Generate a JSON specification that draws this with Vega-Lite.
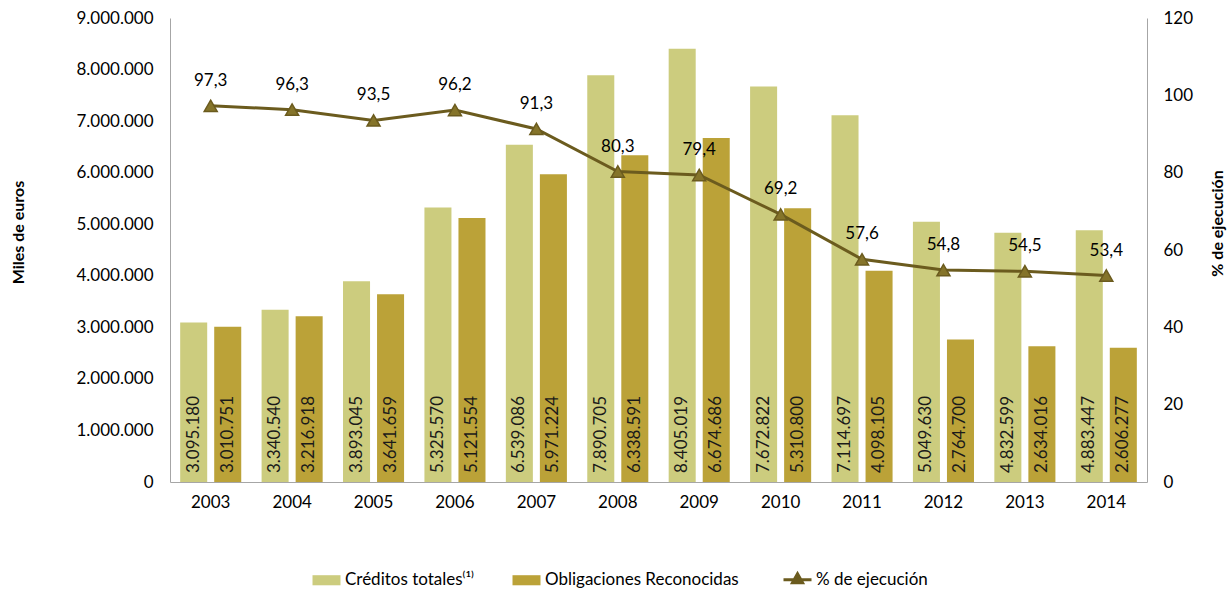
{
  "$schema": "https://vega.github.io/schema/vega-lite/v6.json",
  "width": 977,
  "height": 464,
  "autosize": {"type": "none"},
  "padding": {"left": 170, "top": 18, "right": 80, "bottom": 108},
  "background": "white",
  "config": {
    "font": "Lato",
    "locale": {"number": {"decimal": ",", "thousands": ".", "grouping": [3], "currency": ["", " €"]}},
    "view": {"stroke": null},
    "axis": {"labelFontSize": 17, "labelColor": "#000", "domainColor": "#A6A6A6", "ticks": false, "grid": false, "titleFontSize": 16, "titleColor": "#000", "titleFontWeight": "bold"}
  },
  "datasets": {
    "bars": [
      {"year": "2003", "serie": "Créditos totales⁽¹⁾", "valor": 3095180},
      {"year": "2003", "serie": "Obligaciones Reconocidas", "valor": 3010751},
      {"year": "2004", "serie": "Créditos totales⁽¹⁾", "valor": 3340540},
      {"year": "2004", "serie": "Obligaciones Reconocidas", "valor": 3216918},
      {"year": "2005", "serie": "Créditos totales⁽¹⁾", "valor": 3893045},
      {"year": "2005", "serie": "Obligaciones Reconocidas", "valor": 3641659},
      {"year": "2006", "serie": "Créditos totales⁽¹⁾", "valor": 5325570},
      {"year": "2006", "serie": "Obligaciones Reconocidas", "valor": 5121554},
      {"year": "2007", "serie": "Créditos totales⁽¹⁾", "valor": 6539086},
      {"year": "2007", "serie": "Obligaciones Reconocidas", "valor": 5971224},
      {"year": "2008", "serie": "Créditos totales⁽¹⁾", "valor": 7890705},
      {"year": "2008", "serie": "Obligaciones Reconocidas", "valor": 6338591},
      {"year": "2009", "serie": "Créditos totales⁽¹⁾", "valor": 8405019},
      {"year": "2009", "serie": "Obligaciones Reconocidas", "valor": 6674686},
      {"year": "2010", "serie": "Créditos totales⁽¹⁾", "valor": 7672822},
      {"year": "2010", "serie": "Obligaciones Reconocidas", "valor": 5310800},
      {"year": "2011", "serie": "Créditos totales⁽¹⁾", "valor": 7114697},
      {"year": "2011", "serie": "Obligaciones Reconocidas", "valor": 4098105},
      {"year": "2012", "serie": "Créditos totales⁽¹⁾", "valor": 5049630},
      {"year": "2012", "serie": "Obligaciones Reconocidas", "valor": 2764700},
      {"year": "2013", "serie": "Créditos totales⁽¹⁾", "valor": 4832599},
      {"year": "2013", "serie": "Obligaciones Reconocidas", "valor": 2634016},
      {"year": "2014", "serie": "Créditos totales⁽¹⁾", "valor": 4883447},
      {"year": "2014", "serie": "Obligaciones Reconocidas", "valor": 2606277}
    ],
    "pct": [
      {"year": "2003", "pct": 97.3},
      {"year": "2004", "pct": 96.3},
      {"year": "2005", "pct": 93.5},
      {"year": "2006", "pct": 96.2},
      {"year": "2007", "pct": 91.3},
      {"year": "2008", "pct": 80.3},
      {"year": "2009", "pct": 79.4},
      {"year": "2010", "pct": 69.2},
      {"year": "2011", "pct": 57.6},
      {"year": "2012", "pct": 54.8},
      {"year": "2013", "pct": 54.5},
      {"year": "2014", "pct": 53.4}
    ]
  },
  "layer": [
    {
      "data": {"name": "bars"},
      "layer": [
        {
          "mark": {"type": "bar"},
          "encoding": {
            "x": {"field": "year", "type": "nominal", "scale": {"paddingInner": 0.25, "paddingOuter": 0.125}, "axis": {"title": null, "labelAngle": 0, "labelPadding": 12}},
            "xOffset": {"field": "serie", "type": "nominal", "scale": {"domain": ["Créditos totales⁽¹⁾", "Obligaciones Reconocidas"], "paddingInner": 0.206, "paddingOuter": 0}},
            "y": {"field": "valor", "type": "quantitative", "scale": {"domain": [0, 9000000]}, "axis": {"title": "Miles de euros", "values": [0, 1000000, 2000000, 3000000, 4000000, 5000000, 6000000, 7000000, 8000000, 9000000], "format": ",d", "labelPadding": 17, "titleX": -152, "titleY": 214, "titleAngle": -90, "titleAlign": "center", "titleBaseline": "middle"}},
            "color": {
              "field": "serie", "type": "nominal",
              "scale": {"domain": ["Créditos totales⁽¹⁾", "Obligaciones Reconocidas", "% de ejecución"], "range": ["#CCCC7E", "#BBA238", "#6B5B1E"]},
              "legend": {
                "orient": "none", "legendX": 148, "legendY": 553, "direction": "horizontal", "title": null,
                "labelFontSize": 17, "labelColor": "#000", "labelLimit": 300, "symbolSize": 784, "labelOffset": 10, "columnPadding": 38,
                "encode": {"symbols": {"update": {
                  "shape": {"signal": "datum.value === '% de ejecución' ? 'M-1,0H1M0,-0.42L0.36,0.22H-0.36Z' : 'M-1,-0.36H1V0.36H-1Z'"},
                  "fill": {"signal": "datum.value === '% de ejecución' ? '#85742A' : (datum.value === 'Obligaciones Reconocidas' ? '#BBA238' : '#CCCC7E')"},
                  "stroke": {"signal": "datum.value === '% de ejecución' ? '#6B5B1E' : 'transparent'"},
                  "strokeWidth": {"signal": "datum.value === '% de ejecución' ? 3 : 0"},
                  "opacity": {"value": 1},
                  "fillOpacity": {"value": 1},
                  "strokeOpacity": {"value": 1}
                }}}
              }
            }
          }
        },
        {
          "mark": {"type": "text", "angle": 270, "align": "left", "baseline": "middle", "dx": 9, "fontSize": 17, "color": "#1a1a1a"},
          "encoding": {
            "x": {"field": "year", "type": "nominal"},
            "xOffset": {"field": "serie", "type": "nominal"},
            "y": {"datum": 0, "type": "quantitative"},
            "text": {"field": "valor", "type": "quantitative", "format": ",d"}
          }
        }
      ]
    },
    {
      "data": {"name": "pct"},
      "layer": [
        {
          "mark": {"type": "line", "strokeWidth": 3},
          "encoding": {
            "x": {"field": "year", "type": "nominal"},
            "y": {"field": "pct", "type": "quantitative", "scale": {"domain": [0, 120]}, "axis": {"orient": "right", "title": "% de ejecución", "values": [0, 20, 40, 60, 80, 100, 120], "format": "d", "labelPadding": 16, "titleX": 70, "titleY": 205, "titleAngle": -90, "titleAlign": "center", "titleBaseline": "middle"}},
            "color": {"datum": "% de ejecución"}
          }
        },
        {
          "mark": {"type": "point", "shape": "triangle-up", "filled": true, "size": 170, "fill": "#85742A", "stroke": "#6B5B1E", "strokeWidth": 1.5, "opacity": 1},
          "encoding": {
            "x": {"field": "year", "type": "nominal"},
            "y": {"field": "pct", "type": "quantitative"}
          }
        },
        {
          "mark": {"type": "text", "dy": -25, "fontSize": 17, "color": "#000", "baseline": "middle"},
          "encoding": {
            "x": {"field": "year", "type": "nominal"},
            "y": {"field": "pct", "type": "quantitative"},
            "text": {"field": "pct", "type": "quantitative", "format": ".1f"}
          }
        }
      ]
    }
  ],
  "resolve": {"scale": {"y": "independent"}}
}
